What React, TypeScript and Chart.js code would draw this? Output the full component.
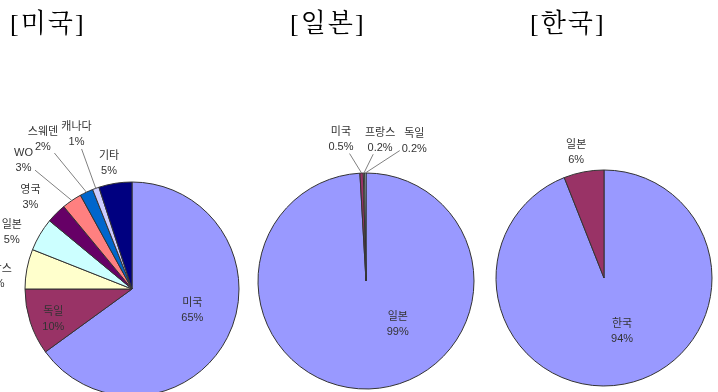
import React, { useEffect, useRef } from "react";
import { Chart, registerables } from "chart.js";

Chart.register(...registerables);

// ---------- data ----------
const usCategories = ["미국", "독일", "프랑스", "일본", "영국", "WO", "스웨덴", "캐나다", "기타"];
const usValues = [65, 10, 6, 5, 3, 3, 2, 1, 5];

const jpCategories = ["일본", "미국", "프랑스", "독일"];
const jpValues = [99.1, 0.5, 0.2, 0.2];

const krCategories = ["한국", "일본"];
const krValues = [94, 6];

const titles = ["[미국]", "[일본]", "[한국]"];

// ---------- styles ----------
const usColors = ["#9999FF", "#993366", "#FFFFCC", "#CCFFFF", "#660066", "#FF8080", "#0066CC", "#CCCCFF", "#000080"];
const jpColors = ["#9999FF", "#993366", "#FFFFCC", "#CCFFFF"];
const krColors = ["#9999FF", "#993366"];

const W = 718;
const H = 400;

const fmtPct = (v: number) => (v >= 1 ? Math.round(v) + "%" : v.toFixed(1) + "%");

const labelPlugin = {
  id: "sliceLabels",
  afterDatasetsDraw(chart: any, _args: any, opts: any) {
    const meta = chart.getDatasetMeta(0);
    const ctx = chart.ctx as CanvasRenderingContext2D;
    const labels = chart.data.labels as string[];
    const values = chart.data.datasets[0].data as number[];
    ctx.save();
    ctx.font = '11px "Liberation Sans", "Noto Sans CJK KR", sans-serif';
    ctx.textAlign = "center";
    ctx.textBaseline = "middle";
    meta.data.forEach((arc: any, i: number) => {
      const p = arc.getProps(["x", "y", "startAngle", "endAngle", "outerRadius"], true);
      const midRaw = (p.startAngle + p.endAngle) / 2;
      const mid = midRaw + ((opts.shift[i] || 0) * Math.PI) / 180;
      const r = p.outerRadius * opts.dist[i];
      const lx = p.x + Math.cos(mid) * r;
      const ly = p.y + Math.sin(mid) * r;
      const l1 = labels[i];
      const l2 = fmtPct(values[i]);
      if (opts.leader[i]) {
        const ex = p.x + Math.cos(midRaw) * p.outerRadius;
        const ey = p.y + Math.sin(midRaw) * p.outerRadius;
        const hw = Math.max(ctx.measureText(l1).width, ctx.measureText(l2).width) / 2 + 2;
        const hh = 14;
        const dx = ex - lx;
        const dy = ey - ly;
        const t = Math.min(Math.abs(hw / dx), Math.abs(hh / dy));
        ctx.strokeStyle = "#808080";
        ctx.lineWidth = 1;
        ctx.beginPath();
        ctx.moveTo(lx + dx * t, ly + dy * t);
        ctx.lineTo(ex, ey);
        ctx.stroke();
      }
      ctx.fillStyle = "#333";
      ctx.fillText(l1, lx, ly - 7.5);
      ctx.fillText(l2, lx, ly + 7.5);
    });
    ctx.restore();
  },
};

type PieSpec = {
  labels: string[];
  values: number[];
  colors: string[];
  cx: number;
  cy: number;
  r: number;
  dist: number[];
  shift: number[];
  leader: boolean[];
};

const pies: PieSpec[] = [
  {
    labels: usCategories,
    values: usValues,
    colors: usColors,
    cx: 132,
    cy: 289,
    r: 107,
    dist: [0.6, 0.79, 1.27, 1.24, 1.28, 1.57, 1.63, 1.53, 1.19],
    shift: [-7, -3.4, -5.7, -5.6, -2.9, -6, -5.5, 0, -1.4],
    leader: [false, false, false, false, false, true, true, true, false],
  },
  {
    labels: jpCategories,
    values: jpValues,
    colors: jpColors,
    cx: 366,
    cy: 281,
    r: 108,
    dist: [0.5, 1.33, 1.31, 1.37],
    shift: [-34.4, -7.7, 6.8, 19.4],
    leader: [false, true, true, true],
  },
  {
    labels: krCategories,
    values: krValues,
    colors: krColors,
    cx: 604,
    cy: 278,
    r: 108,
    dist: [0.52, 1.19],
    shift: [-8, -1.7],
    leader: [false, false],
  },
];

const titleLeft = [10, 290, 530];

function PieCanvas({ spec }: { spec: PieSpec }) {
  const ref = useRef<HTMLCanvasElement | null>(null);
  useEffect(() => {
    if (!ref.current) return;
    const chart = new Chart(ref.current, {
      type: "pie",
      data: {
        labels: spec.labels,
        datasets: [
          {
            data: spec.values,
            backgroundColor: spec.colors,
            borderColor: "#333333",
            borderWidth: 1,
            clip: false as any,
          },
        ],
      },
      options: {
        responsive: false,
        animation: false,
        devicePixelRatio: 1,
        radius: spec.r,
        layout: {
          padding: {
            left: spec.cx - spec.r,
            right: W - spec.cx - spec.r,
            top: spec.cy - spec.r,
            bottom: H - spec.cy - spec.r,
          },
        },
        plugins: {
          legend: { display: false },
          tooltip: { enabled: false },
          sliceLabels: { dist: spec.dist, shift: spec.shift, leader: spec.leader },
        } as any,
        events: [],
      } as any,
      plugins: [labelPlugin as any],
    });
    return () => chart.destroy();
  }, [spec]);
  return (
    <canvas
      ref={ref}
      width={W}
      height={H}
      style={{ position: "absolute", left: 0, top: 0, width: W, height: H }}
    />
  );
}

export default function App() {
  return (
    <div
      style={{
        position: "fixed",
        left: 0,
        top: 0,
        width: W,
        height: 392,
        overflow: "hidden",
        background: "#fff",
      }}
    >
      {pies.map((s, i) => (
        <PieCanvas key={i} spec={s} />
      ))}
      {titles.map((t, i) => (
        <div
          key={t}
          style={{
            position: "absolute",
            left: titleLeft[i],
            top: 9,
            fontFamily: '"Liberation Serif", "Noto Serif CJK KR", "Noto Sans CJK KR", serif',
            fontSize: 26,
            lineHeight: "30px",
            letterSpacing: 2,
            color: "#000",
            whiteSpace: "nowrap",
          }}
        >
          {t}
        </div>
      ))}
    </div>
  );
}
